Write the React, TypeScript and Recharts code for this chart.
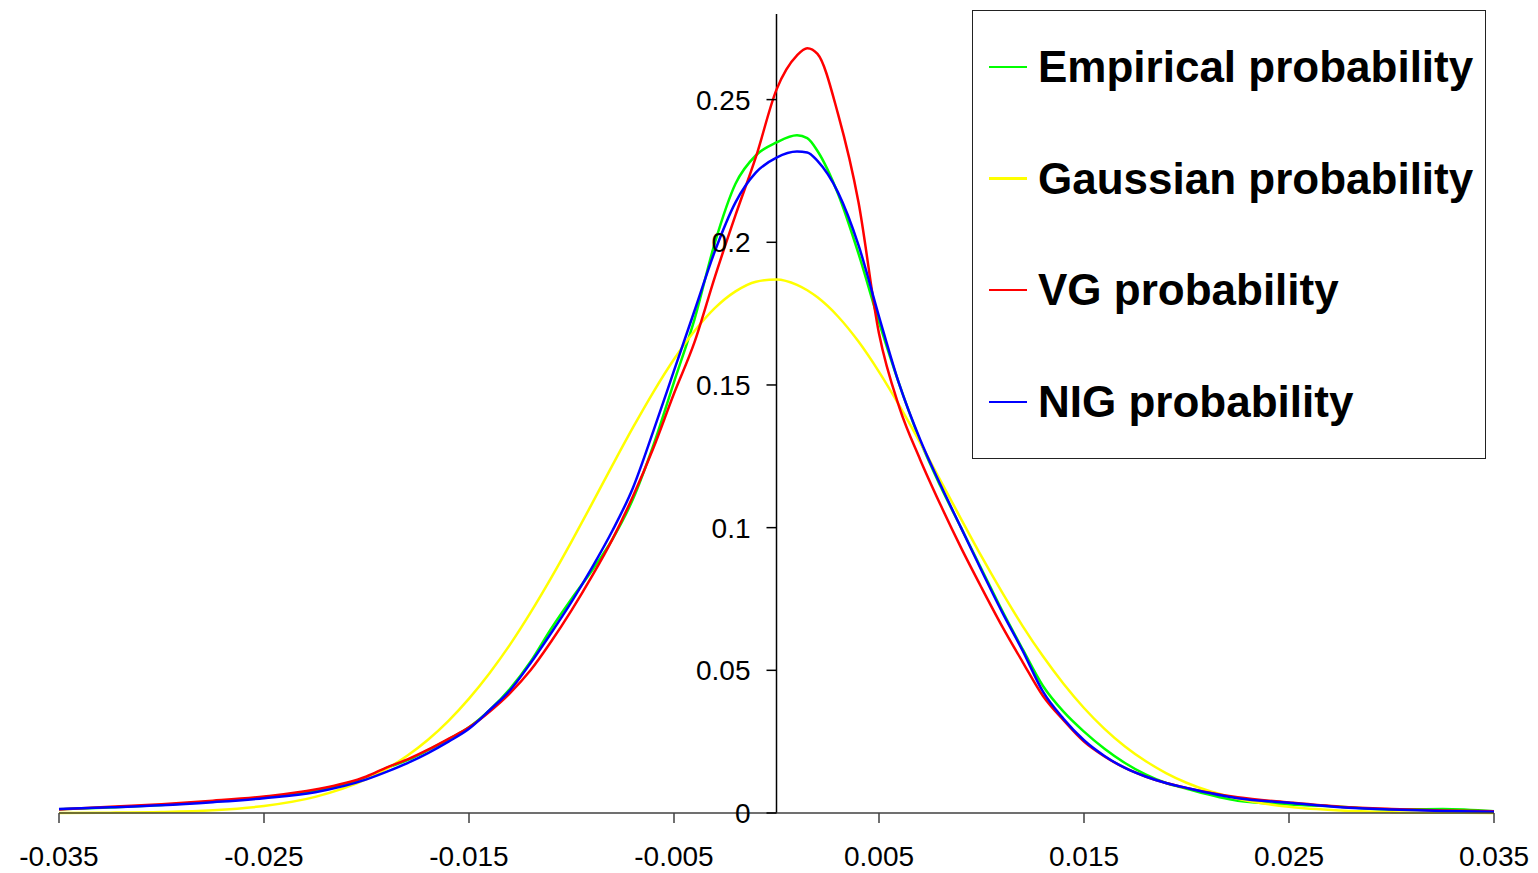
import React from "react";
import { LineChart, Line, XAxis, YAxis, ReferenceLine, ReferenceDot, Legend } from "recharts";

const FONT = '"Liberation Sans", Arial, Helvetica, sans-serif';

// return grid (x) shared by all four curves
const xValues = [
  -0.035, -0.0325, -0.03, -0.0275, -0.025, -0.0225,
  -0.02, -0.019, -0.018, -0.017, -0.016, -0.015, -0.014, -0.013, -0.012, -0.011,
  -0.01, -0.009, -0.008, -0.007, -0.006, -0.005, -0.004, -0.003, -0.002, -0.001,
  0, 0.001, 0.0015, 0.002, 0.003, 0.004, 0.005, 0.006, 0.007, 0.008, 0.009,
  0.01, 0.011, 0.012, 0.013, 0.014, 0.015, 0.016, 0.017, 0.018, 0.019, 0.02,
  0.0225, 0.025, 0.0275, 0.03, 0.0325, 0.035,
];

const empirical = [
  0.0013, 0.0019, 0.0028, 0.004, 0.0054, 0.0077,
  0.0125, 0.0158, 0.0185, 0.022, 0.0258, 0.03, 0.036, 0.0435, 0.053, 0.0645,
  0.075, 0.085, 0.096, 0.11, 0.129, 0.151, 0.173, 0.2, 0.2205, 0.2305,
  0.235, 0.2375, 0.2365, 0.232, 0.217, 0.196, 0.172, 0.15, 0.1305, 0.1145, 0.1,
  0.0855, 0.071, 0.0575, 0.0445, 0.0355, 0.0285, 0.0225, 0.0175, 0.0135, 0.0105, 0.0085,
  0.0043, 0.003, 0.0022, 0.0012, 0.0014, 0.0006,
];

const gaussian = [
  0.00004, 0.00012, 0.00036, 0.00099, 0.00247, 0.00566,
  0.01186, 0.01555, 0.02013, 0.02567, 0.0323, 0.0401, 0.049, 0.059, 0.0702, 0.0823,
  0.0951, 0.1084, 0.1219, 0.1351, 0.1476, 0.159, 0.1689, 0.177, 0.1828, 0.1862,
  0.187, 0.1851, 0.1832, 0.1807, 0.174, 0.1652, 0.1546, 0.1427, 0.1299, 0.1165, 0.1031,
  0.0899, 0.0774, 0.0656, 0.0549, 0.0453, 0.0368, 0.0295, 0.0233, 0.0182, 0.014, 0.0106,
  0.00498, 0.00215, 0.00085, 0.0003, 0.0001, 0.00003,
];

const vg = [
  0.0012, 0.0022, 0.0031, 0.0043, 0.0058, 0.0082,
  0.0128, 0.016, 0.0188, 0.0222, 0.026, 0.03, 0.0355, 0.042, 0.05, 0.06,
  0.071, 0.083, 0.096, 0.111, 0.128, 0.147, 0.165, 0.188, 0.2095, 0.23,
  0.2535, 0.2655, 0.268, 0.266, 0.245, 0.214, 0.168, 0.142, 0.124, 0.108, 0.093,
  0.079, 0.0655, 0.053, 0.041, 0.0325, 0.025, 0.0198, 0.0158, 0.0128, 0.0105, 0.0088,
  0.0055, 0.0037, 0.0022, 0.0014, 0.0009, 0.0006,
];

const nig = [
  0.0014, 0.002, 0.0027, 0.0038, 0.0052, 0.0073,
  0.0118, 0.0145, 0.0175, 0.021, 0.025, 0.0295, 0.036, 0.043, 0.0525, 0.063,
  0.074, 0.086, 0.099, 0.114, 0.134, 0.155, 0.176, 0.197, 0.214, 0.2245,
  0.2297, 0.2318, 0.2315, 0.2285, 0.2175, 0.199, 0.174, 0.15, 0.131, 0.115, 0.1,
  0.085, 0.0705, 0.057, 0.0425, 0.033, 0.0255, 0.02, 0.0158, 0.0128, 0.0105, 0.0088,
  0.0052, 0.0036, 0.002, 0.0012, 0.0007, 0.0004,
];

const xTicks = [-0.035, -0.025, -0.015, -0.005, 0.005, 0.015, 0.025, 0.035];
const xTickLabels = ["-0.035", "-0.025", "-0.015", "-0.005", "0.005", "0.015", "0.025", "0.035"];
const yTicks = [0, 0.05, 0.1, 0.15, 0.2, 0.25];
const yTickLabels = ["0", "0.05", "0.1", "0.15", "0.2", "0.25"];

const series = [
  { key: "empirical", name: "Empirical probability", color: "#00ff00" },
  { key: "gaussian", name: "Gaussian probability", color: "#ffff00" },
  { key: "vg", name: "VG probability", color: "#ff0000" },
  { key: "nig", name: "NIG probability", color: "#0000ff" },
];

const chartData = xValues.map((x, i) => ({
  x,
  empirical: empirical[i],
  gaussian: gaussian[i],
  vg: vg[i],
  nig: nig[i],
}));

// tick + label drawn at (0, v) so the value axis sits at x = 0
const YTick = (props: any) => {
  const { cx, cy, label } = props;
  if (cx == null || cy == null) return null;
  return (
    <g>
      <line x1={cx - 10} y1={cy} x2={cx} y2={cy} stroke="#000" strokeWidth={1.5} />
      <text x={cx - 26} y={cy} dy="0.36em" textAnchor="end" fontSize={28} fontFamily={FONT} fill="#000">
        {label}
      </text>
    </g>
  );
};

const LegendBox = () => (
  <div
    style={{
      boxSizing: "border-box",
      width: 514,
      height: 449,
      border: "1px solid #222",
      background: "#fff",
      fontFamily: FONT,
    }}
  >
    {series.map((s) => (
      <div key={s.key} style={{ height: 111.7, display: "flex", alignItems: "center" }}>
        <div style={{ width: 38, height: 2.5, background: s.color, marginLeft: 16, marginRight: 11 }} />
        <span style={{ fontSize: 44, fontWeight: "bold", lineHeight: 1, whiteSpace: "nowrap", color: "#000" }}>
          {s.name}
        </span>
      </div>
    ))}
  </div>
);

export default function App() {
  return (
    <div style={{ position: "absolute", left: 0, top: 0, width: 1538, height: 873, background: "#fff" }}>
      <LineChart width={1538} height={873} data={chartData} margin={{ top: 14, right: 44, bottom: 0, left: 59 }}>
        <XAxis
          dataKey="x"
          type="number"
          domain={[-0.035, 0.035]}
          ticks={xTicks}
          interval={0}
          tickFormatter={(v: number) => xTickLabels[xTicks.indexOf(v)]}
          height={60}
          tickSize={10}
          tickMargin={23}
          axisLine={{ stroke: "#404040", strokeWidth: 1.5 }}
          tickLine={{ stroke: "#404040", strokeWidth: 1.5 }}
          tick={{ fontSize: 28, fontFamily: FONT, fill: "#000" }}
        />
        <YAxis hide type="number" domain={[0, 0.28]} />
        <ReferenceLine x={0} stroke="#000" strokeWidth={1.5} />
        {yTicks.map((v, i) => (
          <ReferenceDot
            key={v}
            x={0}
            y={v}
            r={0}
            shape={(p: any) => <YTick {...p} label={yTickLabels[i]} />}
          />
        ))}
        {series.map((s) => (
          <Line
            key={s.key}
            type="monotone"
            dataKey={s.key}
            name={s.name}
            stroke={s.color}
            strokeWidth={2.5}
            dot={false}
            activeDot={false}
            isAnimationActive={false}
          />
        ))}
        <Legend
          layout="vertical"
          align="center"
          verticalAlign="middle"
          content={() => <LegendBox />}
          wrapperStyle={{ left: 972, top: 10, width: 514, height: 449 }}
        />
      </LineChart>
    </div>
  );
}
